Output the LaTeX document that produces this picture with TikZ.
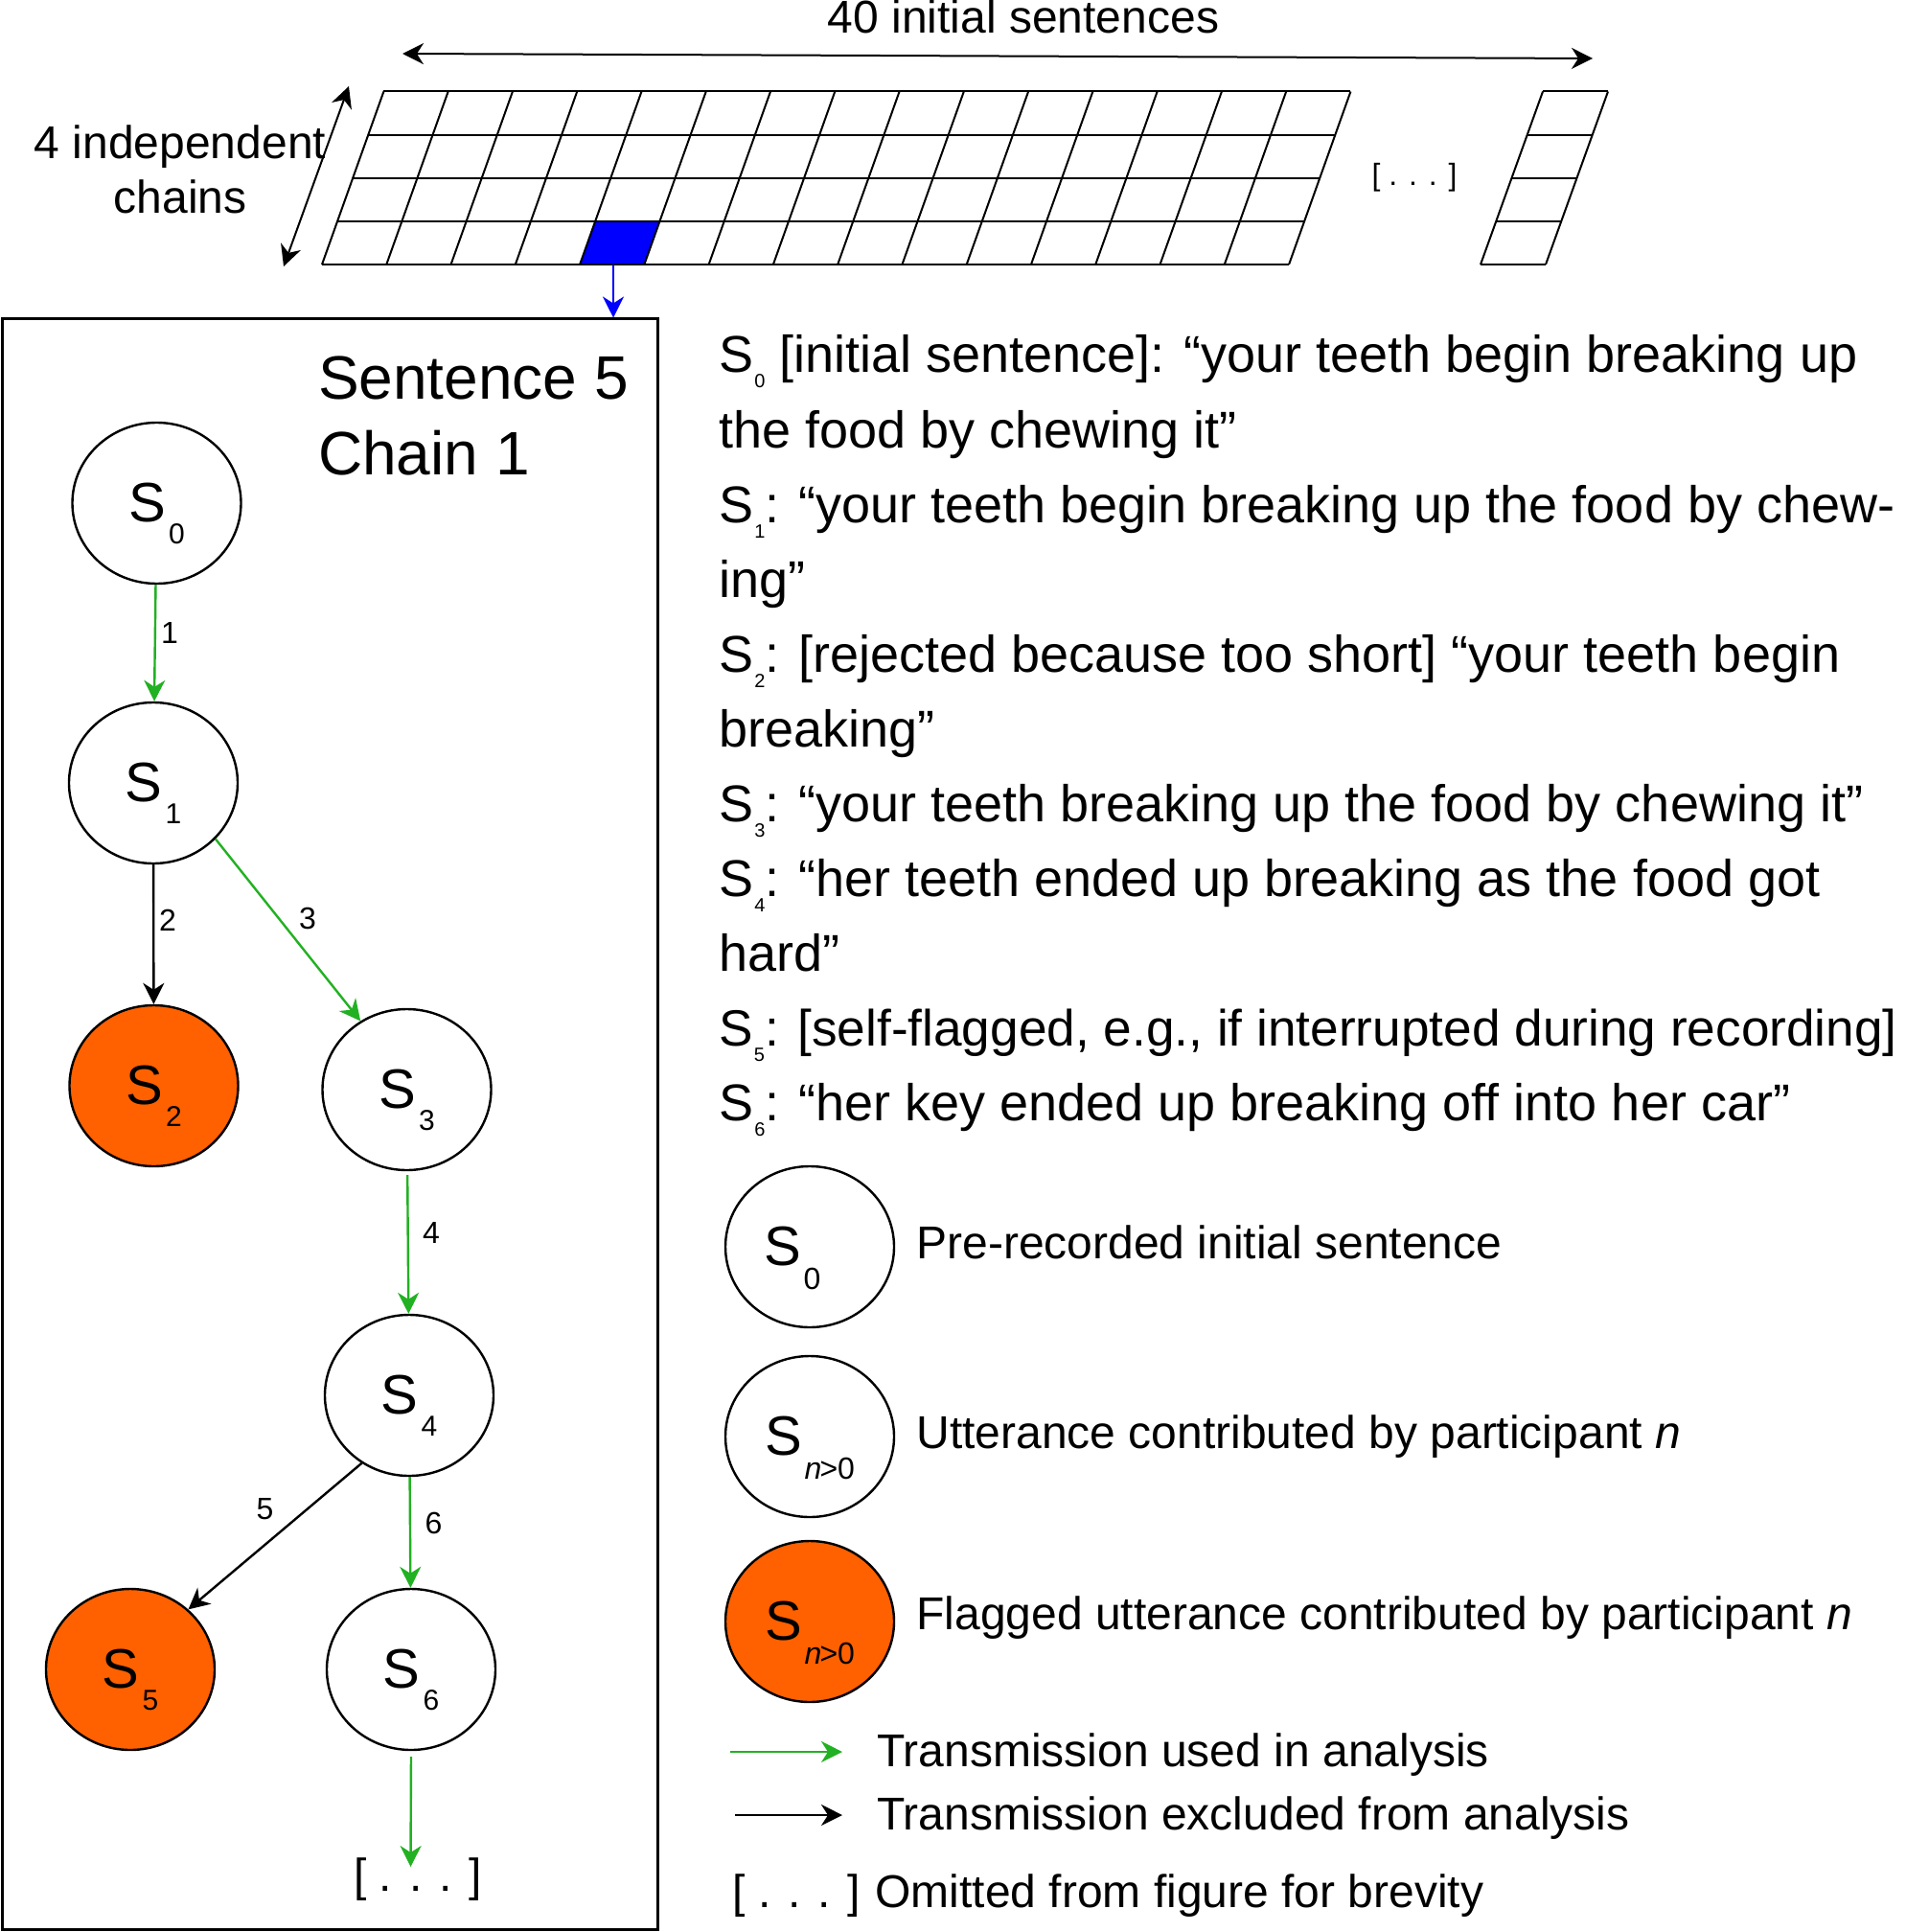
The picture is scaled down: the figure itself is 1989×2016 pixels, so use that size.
\documentclass[tikz,border=0pt]{standalone}
\usepackage{fontspec}
\setmainfont{Liberation Sans}
\usetikzlibrary{arrows.meta,shapes.geometric}
\definecolor{tgreen}{RGB}{34,177,34}
\definecolor{torange}{RGB}{255,96,0}
\newcommand{\nsub}[1]{\kern1.5pt\raisebox{-11.5pt}[0pt][0pt]{\fontsize{15}{15}\selectfont #1}}
\newcommand{\lsub}[1]{\kern1.5pt\raisebox{-12.5pt}[0pt][0pt]{\fontsize{16}{16}\selectfont #1}}
\newcommand{\tsub}[1]{\kern0.5pt\raisebox{-8pt}[0pt][0pt]{\fontsize{10}{10}\selectfont #1}}
\tikzset{
  tip/.tip={Stealth[length=11pt,width=11pt,inset=3.5pt]},
  snode/.style={ellipse, draw, line width=1.2pt, minimum width=88pt, minimum height=84pt, inner sep=0pt, fill=white, font=\fontsize{29}{29}\selectfont},
  flag/.style={snode, fill=torange},
  gar/.style={draw=tgreen, line width=1.2pt, -tip},
  bar/.style={draw=black, line width=1.2pt, -tip},
  blar/.style={draw=blue, line width=1pt, -tip},
  darr/.style={draw=black, line width=1pt, tip-tip},
  gridl/.style={draw=black, line width=1pt},
  elab/.style={inner sep=0pt, font=\fontsize{16}{16}\selectfont},
  txt/.style={anchor=base west, inner sep=0pt, font=\fontsize{27}{32}\selectfont},
  leg/.style={anchor=base west, inner sep=0pt, font=\fontsize{24}{28}\selectfont},
  big/.style={anchor=base west, inner sep=0pt, font=\fontsize{32}{38}\selectfont},
  mid/.style={anchor=base, inner sep=0pt, font=\fontsize{24}{28}\selectfont}
}
\begin{document}
\begin{tikzpicture}[x=0.5pt,y=-0.5pt]
\useasboundingbox (0,0) rectangle (1989,2016);
% ---- top grid ----
\fill[blue] (621.2,230.9) -- (688.4,230.9) -- (672.4,276) -- (605.1,276) -- cycle;
\foreach \r in {0,...,4} {
  \draw[gridl] ({400.4-64.4*\r/4},{95.5+45.125*\r}) -- ++(1009,0);
  \draw[gridl] ({1610-65*\r/4},{95.5+45.125*\r}) -- ++(68,0);
}
\foreach \i in {0,...,15} {
  \draw[gridl] ({400.4+\i*67.27},95.5) -- ({336+\i*67.27},276);
}
\draw[gridl] (1610,95.5) -- (1545,276);
\draw[gridl] (1678,95.5) -- (1613,276);
\node[inner sep=0pt, font=\fontsize{16}{16}\selectfont] (gdots) at (1476,185) {[ . . . ]};
% ---- dimension arrows ----
\node[mid] (toplab) at (1068,35) {40 initial sentences};
\coordinate (h1) at (420,56);
\coordinate (h2) at (1662,61);
\draw[darr] (h1) -- (h2);
\coordinate (v1) at (364,90);
\coordinate (v2) at (296,278);
\draw[darr] (v1) -- (v2);
\node[mid] (ch1) at (188,166) {4 independent};
\node[mid] (ch2) at (188,223) {chains};
% ---- box ----
\node[draw, line width=1.5pt, minimum width=342pt, minimum height=840.25pt, inner sep=0pt] (box) at (344.5,1173.25) {};
\coordinate (bsrc) at (640,276);
\draw[blar] (bsrc) -- (bsrc |- box.north);
\node[big] (sen) at (331.7,417) {Sentence 5};
\node[big] (cha) at (331.7,495) {Chain 1};
% ---- chain nodes ----
\node[snode] (S0) at (163.5,525) {S\nsub{0}};
\node[snode] (S1) at (160,817) {S\nsub{1}};
\node[flag]  (S2) at (160.5,1133) {S\nsub{2}};
\node[snode] (S3) at (424.5,1137) {S\nsub{3}};
\node[snode] (S4) at (427,1456) {S\nsub{4}};
\node[flag]  (S5) at (136,1742) {S\nsub{5}};
\node[snode] (S6) at (429,1742) {S\nsub{6}};
\node[inner sep=0pt, font=\fontsize{24}{24}\selectfont] (dots) at (436,1961) {[ . . . ]};
\coordinate (dotsin) at (428.5,1948);
\draw[gar] (S0) -- (S1);
\draw[bar] (S1) -- (S2);
\draw[gar] (S1.-42) -- (S3.124);
\draw[gar, shorten <=2pt] (S3) -- (S4);
\draw[bar] (S4.235) -- (S5.46);
\draw[gar] (S4) -- (S6);
\draw[gar, shorten <=3pt] (S6.south) -- (dotsin);
\node[elab] (e1) at (177,660) {1};
\node[elab] (e2) at (175,960) {2};
\node[elab] (e3) at (321,958) {3};
\node[elab] (e4) at (450,1286) {4};
\node[elab] (e5) at (276.5,1575) {5};
\node[elab] (e6) at (452.5,1589) {6};
% ---- right text ----
\node[txt] (t1)  at (750,389)  {S\tsub{0} [initial sentence]: “your teeth begin breaking up};
\node[txt] (t2)  at (750,467)  {the food by chewing it”};
\node[txt] (t3)  at (750,545)  {S\tsub{1}: “your teeth begin breaking up the food by chew-};
\node[txt] (t4)  at (750,623)  {ing”};
\node[txt] (t5)  at (750,701)  {S\tsub{2}: [rejected because too short] “your teeth begin};
\node[txt] (t6)  at (750,779)  {breaking”};
\node[txt] (t7)  at (750,857)  {S\tsub{3}: “your teeth breaking up the food by chewing it”};
\node[txt] (t8)  at (750,935)  {S\tsub{4}: “her teeth ended up breaking as the food got};
\node[txt] (t9)  at (750,1013) {hard”};
\node[txt, font=\fontsize{26.6}{32}\selectfont] (t10) at (750,1091) {S\tsub{5}: [self-flagged, e.g., if interrupted during recording]};
\node[txt] (t11) at (750,1169) {S\tsub{6}: “her key ended up breaking off into her car”};
% ---- legend ----
\node[snode] (L0) at (845,1301) {S\lsub{0\phantom{>0}}};
\node[snode] (L1) at (845,1499) {S\lsub{\textit{n}\kern-1pt>0}};
\node[flag]  (L2) at (845,1692) {S\lsub{\textit{n}\kern-1pt>0}};
\node[leg] (l0t) at (956,1313) {Pre-recorded initial sentence};
\node[leg] (l1t) at (956,1511) {Utterance contributed by participant \textit{n}};
\node[leg] (l2t) at (956,1700) {Flagged utterance contributed by participant \textit{n}};
\coordinate (ga1) at (762,1828);
\coordinate (ga2) at (879,1828);
\draw[gar] (ga1) -- (ga2);
\coordinate (ba1) at (767,1894);
\coordinate (ba2) at (879,1894);
\draw[bar] (ba1) -- (ba2);
\node[leg] (l3t) at (915,1843) {Transmission used in analysis};
\node[leg] (l4t) at (915,1909) {Transmission excluded from analysis};
\node[leg] (l5d) at (764,1990) {[ . . . ]};
\node[leg] (l5t) at (913,1990) {Omitted from figure for brevity};
\end{tikzpicture}
\end{document}
